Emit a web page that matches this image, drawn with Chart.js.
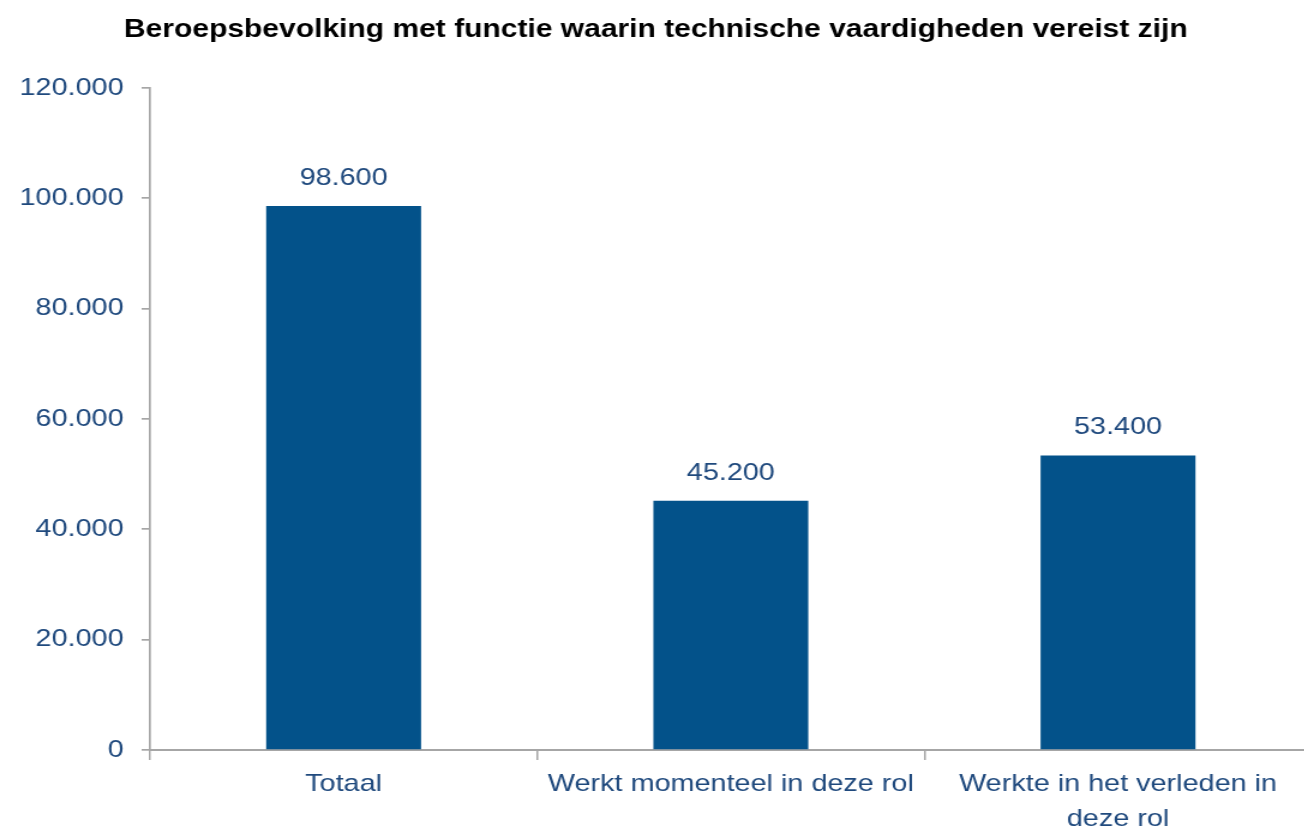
<!DOCTYPE html>
<html>
<head>
<meta charset="utf-8">
<script src="https://cdn.jsdelivr.net/npm/chart.js@4/dist/chart.umd.js"></script>
<style>
  html, body { margin: 0; padding: 0; background: #fff; overflow: hidden; }
  /* the reference is stretched sideways, so the chart is drawn narrower and widened */
  #wrap { width: 1093px; height: 834px; transform: scaleX(1.2); transform-origin: 0 0; }
</style>
</head>
<body>
<div id="wrap"><canvas id="chart" width="1093" height="834"></canvas></div>
<script>
const title = "Beroepsbevolking met functie waarin technische vaardigheden vereist zijn";
const categories = [
  "Totaal",
  "Werkt momenteel in deze rol",
  ["Werkte in het verleden in", "deze rol"]
];
const values = [98600, 45200, 53400];
const yMin = 0;
const yMax = 120000;
const yStep = 20000;

const barColor = "#03528a";
const textColor = "#1f497d";
const axisColor = "#a6a6a6";
const fontFamily = "'Liberation Sans', Arial, sans-serif";

function fmt(v) {
  return String(v).replace(/\B(?=(\d{3})+(?!\d))/g, ".");
}

const valueLabels = {
  id: "valueLabels",
  afterDatasetsDraw(chart) {
    const ctx = chart.ctx;
    const meta = chart.getDatasetMeta(0);
    ctx.save();
    ctx.font = "24px " + fontFamily;
    ctx.fillStyle = textColor;
    ctx.textAlign = "center";
    ctx.textBaseline = "alphabetic";
    meta.data.forEach((bar, i) => {
      ctx.fillText(fmt(values[i]), bar.x, bar.y - 21);
    });
    ctx.restore();
  }
};

new Chart(document.getElementById("chart").getContext("2d"), {
  type: "bar",
  data: {
    labels: categories,
    datasets: [{
      data: values,
      backgroundColor: barColor,
      barPercentage: 0.4,
      categoryPercentage: 1
    }]
  },
  options: {
    responsive: false,
    devicePixelRatio: 1,
    animation: false,
    layout: { padding: 0 },
    plugins: {
      legend: { display: false },
      tooltip: { enabled: false },
      title: {
        display: true,
        text: title,
        color: "#000",
        font: { family: fontFamily, size: 25, weight: "bold" },
        padding: { top: 15, bottom: 43 }
      }
    },
    scales: {
      x: {
        afterFit(scale) { scale.height = 84; },
        border: { display: true, color: axisColor, width: 2 },
        grid: { drawOnChartArea: false, drawTicks: true, tickLength: 10, color: axisColor, lineWidth: 1.5 },
        ticks: {
          color: textColor,
          padding: 7,
          maxRotation: 0,
          autoSkip: false,
          font: { family: fontFamily, size: 24, lineHeight: 1.45 }
        }
      },
      y: {
        min: yMin,
        max: yMax,
        afterFit(scale) { scale.width = 125; },
        border: { display: true, color: axisColor, width: 1.7 },
        grid: { drawOnChartArea: false, drawTicks: true, tickLength: 7, color: axisColor, lineWidth: 1.7 },
        ticks: {
          stepSize: yStep,
          color: textColor,
          padding: 15,
          font: { family: fontFamily, size: 24 },
          callback: v => fmt(v)
        }
      }
    }
  },
  plugins: [valueLabels]
});
</script>
</body>
</html>
